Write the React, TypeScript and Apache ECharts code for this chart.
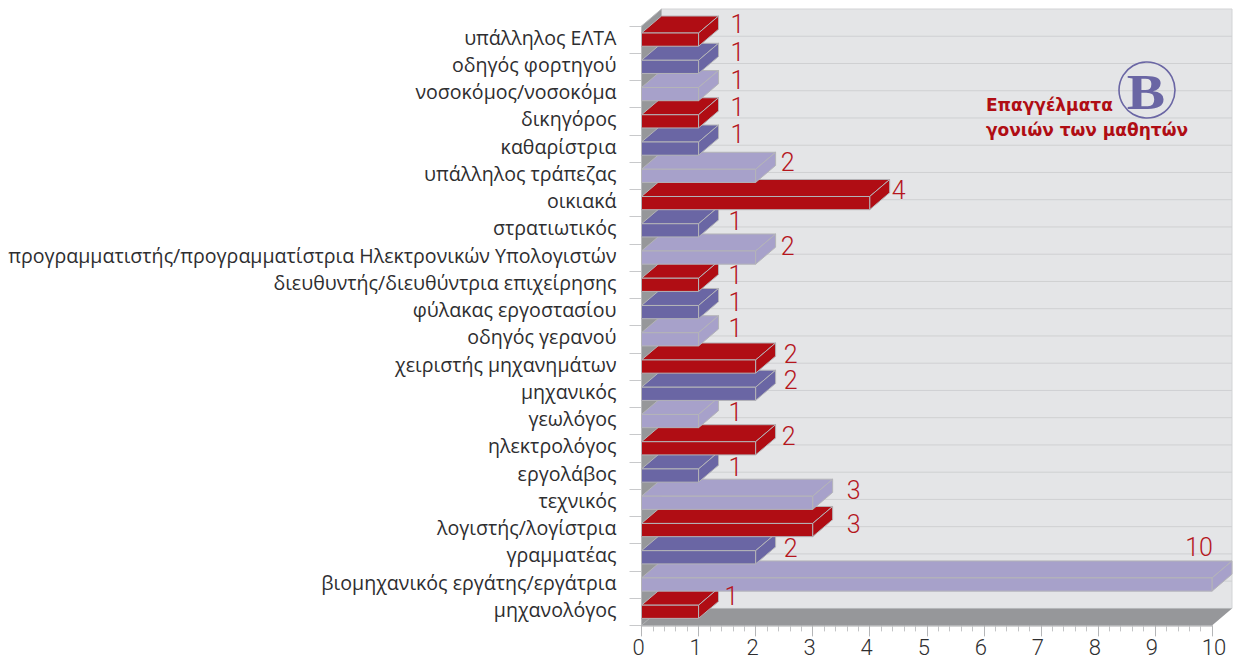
import React, { useEffect, useRef } from "react";
import * as echarts from "echarts";

// Listed bottom row first, so that upper bars are painted over lower ones.
const categories = [
  "μηχανολόγος",
  "βιομηχανικός εργάτης/εργάτρια",
  "γραμματέας",
  "λογιστής/λογίστρια",
  "τεχνικός",
  "εργολάβος",
  "ηλεκτρολόγος",
  "γεωλόγος",
  "μηχανικός",
  "χειριστής μηχανημάτων",
  "οδηγός γερανού",
  "φύλακας εργοστασίου",
  "διευθυντής/διευθύντρια επιχείρησης",
  "προγραμματιστής/προγραμματίστρια Ηλεκτρονικών Υπολογιστών",
  "στρατιωτικός",
  "οικιακά",
  "υπάλληλος τράπεζας",
  "καθαρίστρια",
  "δικηγόρος",
  "νοσοκόμος/νοσοκόμα",
  "οδηγός φορτηγού",
  "υπάλληλος ΕΛΤΑ",
];
const values = [1, 10, 2, 3, 3, 1, 2, 1, 2, 2, 1, 1, 1, 2, 1, 4, 2, 1, 1, 1, 1, 1];
const titleLines = ["Επαγγέλματα", "γονιών των μαθητών"];

// Hand placement of the value labels in the source, relative to the bar's front right end.
const labelDx = [33, -13, 35, 41, 41, 37, 33, 37, 35, 35, 37, 37, 37, 32, 37, 29, 32, 39, 39, 39, 39, 39];
const labelDy = [-15, -37, -9, -6, -12, -8, -12, -9, -13, -12, -11, -10, -9, -11, -9, -13, -13, -14, -14, -14, -14, -15];

const RED = "#b00d14";
const PURPLE = "#6a66a4";
const LAVENDER = "#a7a1ca";
const palette = [RED, LAVENDER, PURPLE];
const DEPTH_X = 20;
const DEPTH_Y = 17;
const BAR_HEIGHT = 13.2;
const EDGE = "#b4b4b8";
const LABEL_FONT = "Roboto";

function renderScene(params: any, api: any) {
  const c = params.coordSys;
  const band = c.height / categories.length;
  const left = c.x;
  const right = c.x + c.width;
  const top = c.y;
  const bottom = c.y + c.height;
  const children: any[] = [
    {
      type: "rect",
      shape: { x: left + DEPTH_X, y: top - DEPTH_Y, width: c.width, height: c.height },
      style: { fill: "#e4e5e7", stroke: "#d2d3d5", lineWidth: 1 },
    },
  ];
  for (let i = 1; i < categories.length; i++) {
    const y = top - DEPTH_Y + band * i;
    children.push({
      type: "line",
      shape: { x1: left + DEPTH_X, y1: y, x2: right + DEPTH_X, y2: y },
      style: { stroke: "#cfd0d2", lineWidth: 1 },
    });
  }
  children.push({
    type: "polygon",
    shape: {
      points: [
        [left, top],
        [left + DEPTH_X, top - DEPTH_Y],
        [left + DEPTH_X, bottom - DEPTH_Y],
        [left, bottom],
      ],
    },
    style: { fill: "#96979a", stroke: "#b9babc", lineWidth: 1 },
  });
  children.push({
    type: "polygon",
    shape: {
      points: [
        [left, bottom],
        [right, bottom],
        [right + DEPTH_X, bottom - DEPTH_Y],
        [left + DEPTH_X, bottom - DEPTH_Y],
      ],
    },
    style: { fill: "#96979a" },
  });
  return { type: "group", children };
}

function renderBar(params: any, api: any) {
  const v = api.value(0);
  const idx = api.value(1);
  const [x1, cy] = api.coord([v, idx]);
  const [x0] = api.coord([0, idx]);
  const y0 = cy - BAR_HEIGHT / 2;
  const y1 = cy + BAR_HEIGHT / 2;
  const fill = palette[idx % 3];
  const stroke = { stroke: EDGE, lineWidth: 1, lineJoin: "round" };
  return {
    type: "group",
    children: [
      {
        type: "polygon",
        shape: {
          points: [
            [x0, y0],
            [x0 + DEPTH_X, y0 - DEPTH_Y],
            [x1 + DEPTH_X, y0 - DEPTH_Y],
            [x1, y0],
          ],
        },
        style: { fill, ...stroke },
      },
      {
        type: "polygon",
        shape: {
          points: [
            [x1, y0],
            [x1 + DEPTH_X, y0 - DEPTH_Y],
            [x1 + DEPTH_X, y1 - DEPTH_Y],
            [x1, y1],
          ],
        },
        style: { fill, ...stroke },
      },
      {
        type: "rect",
        shape: { x: x0, y: y0, width: x1 - x0, height: y1 - y0 },
        style: { fill, ...stroke },
      },
    ],
  };
}

function renderLabel(params: any, api: any) {
  const v = api.value(0);
  const idx = api.value(1);
  const [x, y] = api.coord([v, idx]);
  return {
    type: "text",
    style: {
      text: String(v),
      x: x + labelDx[idx],
      y: y + labelDy[idx],
      fill: "#b5161d",
      align: "center",
      verticalAlign: "middle",
      fontFamily: LABEL_FONT,
      fontWeight: 300,
      fontSize: 25,
    },
  };
}

export default function App() {
  const ref = useRef<HTMLDivElement>(null);
  useEffect(() => {
    document.body.style.margin = "0";
    const chart = echarts.init(ref.current!, undefined, { renderer: "svg" });
    const rows = values.map((v, i) => [v, i]);
    const tickText = { fontFamily: LABEL_FONT, fontWeight: 300, fontSize: 22, lineHeight: 18, color: "#2e2e30" };
    chart.setOption({
      animation: false,
      backgroundColor: "#ffffff",
      grid: { left: 641.5, top: 26, width: 570.5, height: 599.4, containLabel: false, outerBoundsMode: "none" },
      xAxis: {
        type: "value",
        min: 0,
        max: 10,
        interval: 1,
        splitLine: { show: false },
        axisLine: { show: true, lineStyle: { color: "#c3c4c6", width: 1.5 } },
        axisTick: { show: true, length: 11, lineStyle: { color: "#b5b6b8", width: 1 } },
        minorTick: { show: true, splitNumber: 5, length: 6, lineStyle: { color: "#c3c4c6", width: 1 } },
        axisLabel: {
          margin: 13,
          formatter: (v: number) => (v === 10 ? `{t|${v}}` : `{n|${v}}`),
          rich: {
            n: { ...tickText, padding: [0, 6, 0, 0] },
            t: { ...tickText, padding: [0, 0, 0, 4] },
          },
        },
      },
      yAxis: {
        type: "category",
        data: categories,
        axisLine: { show: true, lineStyle: { color: "#c3c4c6", width: 1 } },
        axisTick: { show: true, length: 12, alignWithLabel: false, lineStyle: { color: "#c8c9cb", width: 1 } },
        splitLine: { show: false },
        axisLabel: {
          interval: 0,
          margin: 25,
          verticalAlign: "bottom",
          lineHeight: 5,
          color: "#2e2e30",
          fontFamily: "Open Sans",
          fontSize: 19.6,
        },
      },
      series: [
        { type: "custom", silent: true, z: 1, clip: false, data: [[0, 0]], renderItem: renderScene },
        { type: "custom", silent: true, z: 2, clip: false, data: rows, encode: { x: 0, y: 1 }, renderItem: renderBar },
        { type: "custom", silent: true, z: 3, clip: false, data: rows, encode: { x: 0, y: 1 }, renderItem: renderLabel },
      ],
      graphic: [
        {
          type: "circle",
          z: 10,
          shape: { cx: 1147, cy: 90, r: 28 },
          style: { fill: "transparent", stroke: PURPLE, lineWidth: 1.6 },
        },
        {
          type: "text",
          z: 10,
          x: 1146,
          y: 92,
          scaleX: 1.15,
          style: {
            text: "B",
            x: 0,
            y: 0,
            align: "center",
            verticalAlign: "middle",
            fill: PURPLE,
            fontFamily: "Liberation Serif",
            fontWeight: 700,
            fontSize: 50,
          },
        },
        {
          type: "text",
          z: 10,
          style: {
            text: titleLines[0],
            x: 986,
            y: 105,
            verticalAlign: "middle",
            fill: RED,
            fontFamily: "DejaVu Sans",
            fontWeight: 700,
            fontSize: 17,
          },
        },
        {
          type: "text",
          z: 10,
          style: {
            text: titleLines[1],
            x: 986,
            y: 130,
            verticalAlign: "middle",
            fill: RED,
            fontFamily: "DejaVu Sans",
            fontWeight: 700,
            fontSize: 17,
          },
        },
      ],
    });
    return () => chart.dispose();
  }, []);
  return (
    <div
      ref={ref}
      style={{ position: "fixed", left: 0, top: 0, width: 1236, height: 659 }}
    />
  );
}
